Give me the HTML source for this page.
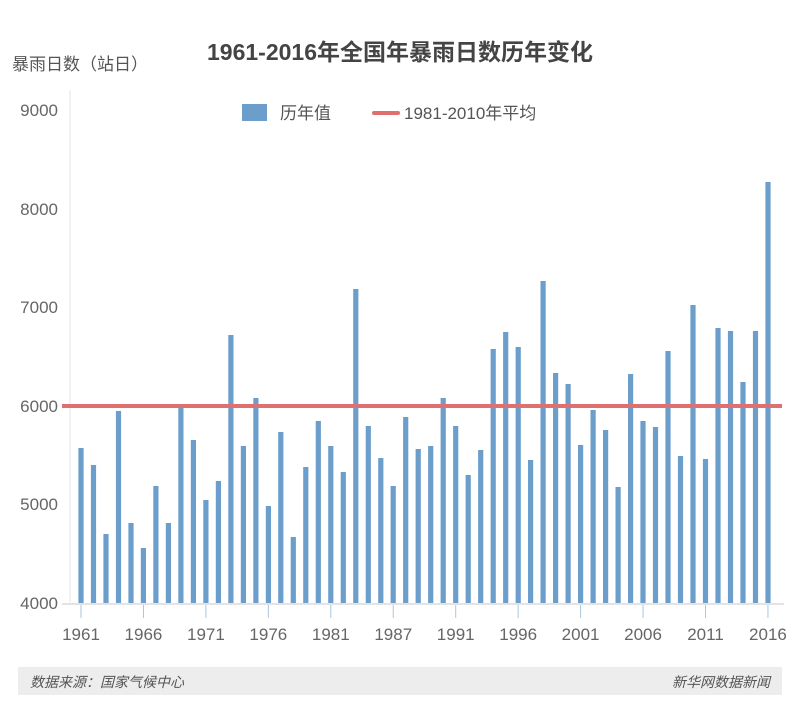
<!DOCTYPE html>
<html><head><meta charset="utf-8"><style>
body{margin:0;background:#fff;width:800px;height:711px;overflow:hidden}
svg{display:block}
text{font-family:"Liberation Sans","Noto Sans CJK SC",sans-serif}
</style></head><body>
<svg id="s" width="800" height="711" xmlns="http://www.w3.org/2000/svg">
<rect width="800" height="711" fill="#fff"/>
<text x="12" y="70" font-size="17" fill="#555">暴雨日数（站日）</text>
<text x="400" y="60" font-size="23" font-weight="bold" fill="#444" text-anchor="middle">1961-2016年全国年暴雨日数历年变化</text>
<rect x="242" y="104" width="25" height="17" fill="#6b9ecb"/>
<text x="280" y="119" font-size="17" fill="#555">历年值</text>
<rect x="372" y="111" width="28" height="4" rx="2" fill="#e07070"/>
<text x="404" y="119" font-size="17" fill="#555">1981-2010年平均</text>
<line x1="70" y1="90" x2="70" y2="604" stroke="#e6e6e6"/>
<line x1="62" y1="604" x2="784" y2="604" stroke="#e3e3e3" stroke-width="2"/>
<g font-size="17" fill="#666" text-anchor="end">
<text x="58" y="116">9000</text><text x="58" y="215">8000</text><text x="58" y="313">7000</text>
<text x="58" y="412">6000</text><text x="58" y="510">5000</text><text x="58" y="609">4000</text>
</g>
<g id="bars" fill="#6b9ecb"></g>
<g id="ticks" stroke="#a9c6e2"></g>
<g id="xl" font-size="17" fill="#666" text-anchor="middle"></g>
<line x1="62" y1="406" x2="782" y2="406" stroke="#e07070" stroke-width="4"/>
<rect x="18" y="667" width="764" height="28" fill="#ededed"/>
<text x="30" y="687" font-size="14" fill="#555" font-style="italic">数据来源：国家气候中心</text>
<text x="770" y="687" font-size="14" fill="#555" font-style="italic" text-anchor="end">新华网数据新闻</text>
</svg>
<script>
var tops=[448,465,534,411,523,548,486,523,406,440,500,481,335,446,398,506,432,537,467,421,446,472,289,426,458,486,417,449,446,398,426,475,450,349,332,347,460,281,373,384,445,410,430,487,374,421,427,351,456,305,459,328,331,382,331,182];
var ns="http://www.w3.org/2000/svg",b=document.getElementById("bars");
tops.forEach(function(t,i){var x=81+i*12.49;var r=document.createElementNS(ns,"rect");
r.setAttribute("x",(x-2.6).toFixed(1));r.setAttribute("y",t);r.setAttribute("width","5.2");r.setAttribute("height",603-t);b.appendChild(r);});
var labs=["1961","1966","1971","1976","1981","1987","1991","1996","2001","2006","2011","2016"];
var tk=document.getElementById("ticks"),xl=document.getElementById("xl");
labs.forEach(function(l,i){var x=81+i*62.45;var ln=document.createElementNS(ns,"line");
ln.setAttribute("x1",x);ln.setAttribute("x2",x);ln.setAttribute("y1",605);ln.setAttribute("y2",618);tk.appendChild(ln);
var t=document.createElementNS(ns,"text");t.setAttribute("x",x);t.setAttribute("y",640);t.textContent=l;xl.appendChild(t);});
</script>
</body></html>
